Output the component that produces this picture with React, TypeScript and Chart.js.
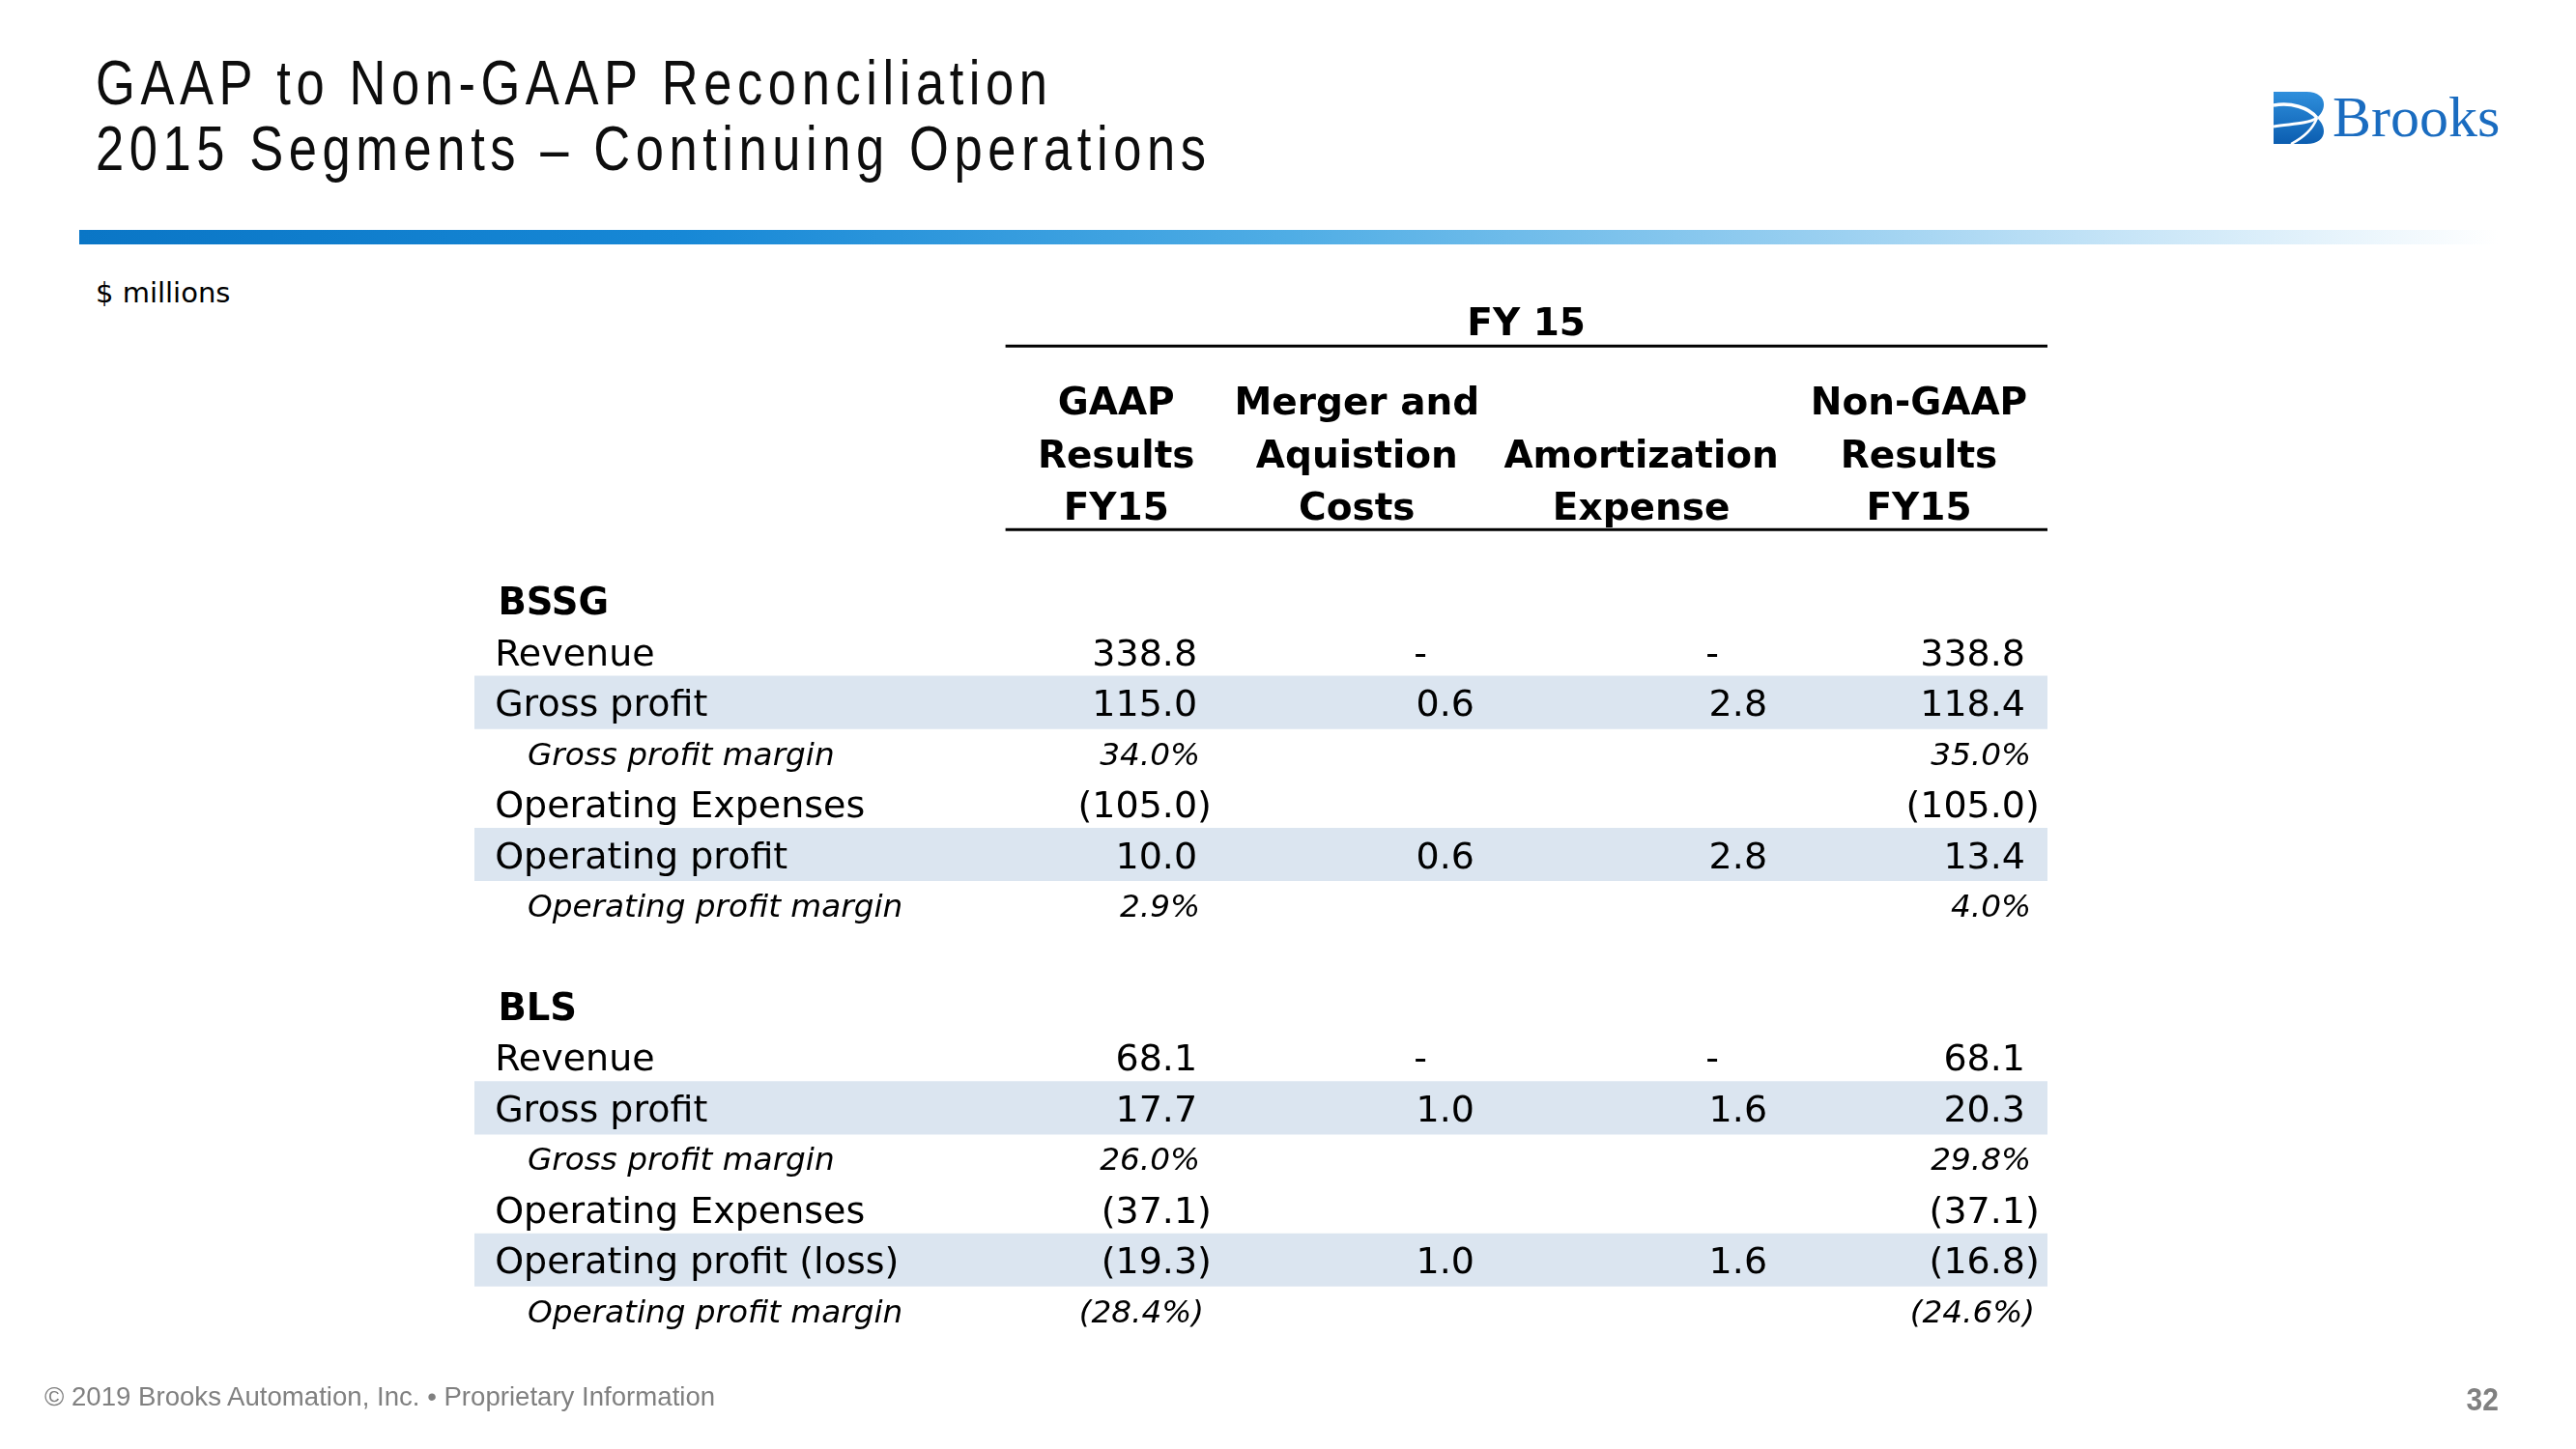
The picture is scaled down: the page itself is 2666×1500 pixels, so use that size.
import React, { useEffect, useRef } from "react";
import { Chart, registerables } from "chart.js";

Chart.register(...registerables);

// ---------------- DATA ----------------
const periodHeader = "FY 15";
const columnHeaders: string[][] = [
  ["GAAP", "Results", "FY15"],
  ["Merger and", "Aquistion", "Costs"],
  ["", "Amortization", "Expense"],
  ["Non-GAAP", "Results", "FY15"],
];
const rowLabels = [
  "BSSG",
  "Revenue",
  "Gross profit",
  "Gross profit margin",
  "Operating Expenses",
  "Operating profit",
  "Operating profit margin",
  "",
  "BLS",
  "Revenue",
  "Gross profit",
  "Gross profit margin",
  "Operating Expenses",
  "Operating profit (loss)",
  "Operating profit margin",
];
const rowTypes = [
  "section", "line", "line", "pct", "line", "line", "pct", "blank",
  "section", "line", "line", "pct", "line", "line", "pct",
];
const highlightedRows = [
  false, false, true, false, false, true, false, false,
  false, false, true, false, false, true, false,
];
const gaapFY15 = ["", "338.8", "115.0", "34.0%", "(105.0)", "10.0", "2.9%", "", "", "68.1", "17.7", "26.0%", "(37.1)", "(19.3)", "(28.4%)"];
const mergerAcquisitionCosts = ["", "-", "0.6", "", "", "0.6", "", "", "", "-", "1.0", "", "", "1.0", ""];
const amortizationExpense = ["", "-", "2.8", "", "", "2.8", "", "", "", "-", "1.6", "", "", "1.6", ""];
const nonGaapFY15 = ["", "338.8", "118.4", "35.0%", "(105.0)", "13.4", "4.0%", "", "", "68.1", "20.3", "29.8%", "(37.1)", "(16.8)", "(24.6%)"];

const titleLines = ["GAAP to Non-GAAP Reconciliation", "2015 Segments \u2013 Continuing Operations"];
const unitsNote = "$ millions";
const footerText = "\u00A9 2019 Brooks Automation, Inc. \u2022 Proprietary Information";
const pageNumber = "32";

// ---------------- LAYOUT (table units: x 0..100 across the table, y = row index) ----------------
const FONT = '"DejaVu Sans", Verdana, sans-serif';
const layout = {
  sectionX: 1.5,
  labelX: 1.3,
  pctLabelX: 3.38,
  valueAnchors: [45.95, 63.57, 82.19, 98.59],
  pctAnchors: [46.13, 63.9, 82.5, 98.96],
  dashCenters: [40.0, 60.14, 78.69, 92.0],
  headerCenters: [40.8, 56.1, 74.18, 91.83],
  periodCenter: 66.87,
  ruleStart: 33.76,
  periodBaseline: -5.25,
  topRule: -5.03,
  headerBaselines: [-3.69, -2.64, -1.6],
  bottomRule: -1.41,
};

const tablePlugin = {
  id: "tableText",
  afterDatasetsDraw(chart: any) {
    const ctx = chart.ctx;
    const xs = chart.scales.x;
    const ys = chart.scales.y;
    const X = (v: number) => xs.getPixelForValue(v);
    const Y = (v: number) => ys.getPixelForValue(v);
    ctx.save();
    ctx.fillStyle = "#000";
    ctx.textBaseline = "alphabetic";

    // Rules
    ctx.strokeStyle = "#000";
    ctx.lineWidth = 3;
    [layout.topRule, layout.bottomRule].forEach((r) => {
      ctx.beginPath();
      ctx.moveTo(X(layout.ruleStart), Y(r));
      ctx.lineTo(X(100), Y(r));
      ctx.stroke();
    });

    // Headers
    ctx.font = `bold 39px ${FONT}`;
    ctx.textAlign = "center";
    ctx.fillText(periodHeader, X(layout.periodCenter), Y(layout.periodBaseline));
    columnHeaders.forEach((lines, c) => {
      lines.forEach((t, li) => {
        if (t) ctx.fillText(t, X(layout.headerCenters[c]), Y(layout.headerBaselines[li]));
      });
    });

    const columns = [gaapFY15, mergerAcquisitionCosts, amortizationExpense, nonGaapFY15];
    rowLabels.forEach((label, i) => {
      const type = rowTypes[i];
      if (type === "blank") return;
      const cy = Y(i);
      if (type === "section") {
        ctx.font = `bold 38.5px ${FONT}`;
        ctx.textAlign = "left";
        ctx.fillText(label, X(layout.sectionX), cy + 14);
        return;
      }
      const isPct = type === "pct";
      const font = isPct ? `italic 32.7px ${FONT}` : `38px ${FONT}`;
      const off = isPct ? 12 : 14;
      ctx.font = font;
      ctx.textAlign = "left";
      ctx.fillText(label, X(isPct ? layout.pctLabelX : layout.labelX), cy + off);
      columns.forEach((col, c) => {
        const v = col[i];
        if (!v) return;
        if (v === "-") {
          ctx.textAlign = "center";
          ctx.fillText(v, X(layout.dashCenters[c]), cy + off);
          return;
        }
        ctx.textAlign = "right";
        if (isPct) {
          const hang = v.endsWith(")") ? 4 : 0;
          ctx.fillText(v, X(layout.pctAnchors[c]) + hang, cy + off);
        } else {
          const hang = v.endsWith(")") ? ctx.measureText(")").width : 0;
          ctx.fillText(v, X(layout.valueAnchors[c]) + hang, cy + off);
        }
      });
    });
    ctx.restore();
  },
};

function BrooksLogo() {
  return (
    <div style={{ position: "absolute", left: 2353, top: 91, height: 66, display: "flex", alignItems: "flex-start" }}>
      <svg width={52} height={56} viewBox="0 0 52 54" style={{ marginTop: 3 }}>
        <defs>
          <linearGradient id="lg" x1="0" y1="0" x2="0" y2="1">
            <stop offset="0%" stopColor="#2f8fdc" />
            <stop offset="100%" stopColor="#0b5db0" />
          </linearGradient>
        </defs>
        <path
          d="M0 0 H34 C46 0 52 6 52 13 C52 19 49 23 45 27 C49 31 52 35 52 41 C52 48 46 54 34 54 H0 Z"
          fill="url(#lg)"
        />
        <path d="M0 14 C18 11 36 16 45 27" stroke="#fff" strokeWidth={3.5} fill="none" />
        <path d="M0 36 C16 33 34 34 45 27" stroke="#fff" strokeWidth={3} fill="none" />
        <path d="M18 54 C30 48 40 40 45 27" stroke="#fff" strokeWidth={2.5} fill="none" />
      </svg>
      <div
        style={{
          marginLeft: 9,
          fontFamily: '"Liberation Serif", "DejaVu Serif", serif',
          fontSize: 60,
          lineHeight: "60px",
          color: "#1a6cc0",
          whiteSpace: "nowrap",
        }}
      >
        Brooks
      </div>
    </div>
  );
}

export default function App() {
  const canvasRef = useRef<HTMLCanvasElement | null>(null);

  useEffect(() => {
    if (!canvasRef.current) return;
    const bandData = highlightedRows.map((h) => (h ? [0, 100] : null));
    const chart = new Chart(canvasRef.current, {
      type: "bar",
      data: {
        labels: rowLabels.map((l, i) => `${i}:${l}`),
        datasets: [
          {
            data: bandData as any,
            backgroundColor: "#dbe5f0",
            borderWidth: 0,
            barPercentage: 1.05,
            categoryPercentage: 1,
          },
        ],
      },
      options: {
        indexAxis: "y",
        animation: false,
        responsive: false,
        devicePixelRatio: 1,
        layout: { padding: { left: 491, right: 547, top: 596, bottom: 117 } },
        scales: {
          x: { type: "linear", min: 0, max: 100, display: false },
          y: { type: "category", display: false, offset: true },
        },
        plugins: { legend: { display: false }, tooltip: { enabled: false } },
      },
      plugins: [tablePlugin],
    });
    return () => chart.destroy();
  }, []);

  return (
    <div style={{ position: "absolute", left: 0, top: 0, width: 2666, height: 1500, background: "#fff", overflow: "hidden" }}>
      <div
        style={{
          position: "absolute",
          left: 99,
          top: 52,
          fontFamily: '"Liberation Sans", Arial, sans-serif',
          fontSize: 64,
          lineHeight: "68px",
          letterSpacing: "6.8px",
          color: "#0d0d0d",
          whiteSpace: "nowrap",
          transform: "scaleX(0.82)",
          transformOrigin: "0 0",
        }}
      >
        {titleLines.map((t, i) => (
          <div key={i}>{t}</div>
        ))}
      </div>
      <div
        style={{
          position: "absolute",
          left: 82,
          top: 238,
          width: 2503,
          height: 15,
          background: "linear-gradient(to right, #0a76c6 0%, #1788d6 25%, #4fade5 50%, #a3d4f2 75%, #ffffff 100%)",
        }}
      />
      <div
        style={{
          position: "absolute",
          left: 99,
          top: 289,
          fontFamily: FONT,
          fontSize: 29,
          lineHeight: "29px",
          color: "#000",
          whiteSpace: "nowrap",
        }}
      >
        {unitsNote}
      </div>
      <BrooksLogo />
      <canvas ref={canvasRef} width={2666} height={1500} style={{ position: "absolute", left: 0, top: 0, width: 2666, height: 1500 }} />
      <div
        style={{
          position: "absolute",
          left: 46,
          top: 1432,
          fontFamily: '"Liberation Sans", Arial, sans-serif',
          fontSize: 27.6,
          lineHeight: "27px",
          color: "#808080",
          whiteSpace: "nowrap",
        }}
      >
        {footerText}
      </div>
      <div
        style={{
          position: "absolute",
          right: 80,
          top: 1432,
          fontFamily: '"Liberation Sans", Arial, sans-serif',
          fontWeight: "bold",
          fontSize: 34,
          lineHeight: "32px",
          color: "#808080",
          transform: "scaleX(0.88)",
          transformOrigin: "100% 0",
        }}
      >
        {pageNumber}
      </div>
    </div>
  );
}
